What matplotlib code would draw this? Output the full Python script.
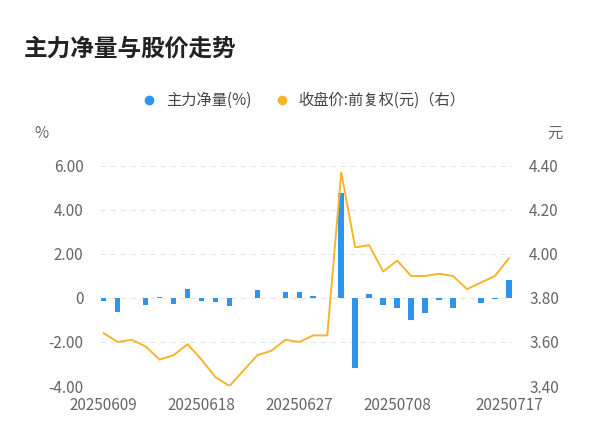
import numpy as np
import matplotlib.pyplot as plt
from matplotlib import font_manager
from matplotlib.lines import Line2D

# ищем шрифт с китайскими иероглифами
cjk = None
for f in font_manager.findSystemFonts():
    if 'CJK' in f or 'cjk' in f:
        try:
            font_manager.fontManager.addfont(f)
        except Exception:
            pass
        if cjk is None:
            cjk = font_manager.FontProperties(fname=f).get_name()
names = [n.name for n in font_manager.fontManager.ttflist if 'CJK' in n.name]
if names:
    cjk = 'Noto Sans CJK SC' if 'Noto Sans CJK SC' in names else names[0]
plt.rcParams['font.family'] = [cjk or 'DejaVu Sans', 'DejaVu Sans']

# данные
flow = [-0.12, -0.62, 0.02, -0.32, 0.06, -0.26, 0.39, -0.14, -0.18, -0.35,
        -0.02, 0.36, -0.02, 0.29, 0.29, 0.10, 0.0, 4.79, -3.18, 0.20,
        -0.33, -0.45, -1.02, -0.70, -0.09, -0.45, -0.02, -0.23, -0.06, 0.83]
price = [3.64, 3.60, 3.61, 3.58, 3.52, 3.54, 3.59, 3.52, 3.44, 3.40,
         3.47, 3.54, 3.56, 3.61, 3.60, 3.63, 3.63, 4.37, 4.03, 4.04,
         3.92, 3.97, 3.90, 3.90, 3.91, 3.90, 3.84, 3.87, 3.90, 3.98]
tick_pos = [0, 7, 14, 21, 29]
tick_labels = ['20250609', '20250618', '20250627', '20250708', '20250717']

x = np.arange(len(flow))
fig = plt.figure(figsize=(6, 4.46), dpi=100)
ax = fig.add_axes([0.167, 0.1345, 0.687, 0.4935])
ax.bar(x, flow, width=0.4, color='#2f95ec', zorder=3)
ax.set_ylim(-4, 6)
ax.set_xlim(-0.25, 29.25)
ax.set_yticks([-4, -2, 0, 2, 4, 6])
ax.set_yticklabels(['-4.00', '-2.00', '0', '2.00', '4.00', '6.00'])
ax.grid(axis='y', color='#e6e6e6', linestyle=(0, (5, 4)), lw=0.8)
ax.set_xticks(tick_pos)
ax.set_xticklabels(tick_labels)
for s in ax.spines.values():
    s.set_visible(False)
ax.tick_params(length=0, labelsize=11, colors='#666666')
ax.tick_params(axis='x', pad=8)
ax.tick_params(axis='y', pad=12)

ax2 = ax.twinx()
ax2.plot(x, price, color='#f7b52c', lw=1.4, zorder=4)
ax2.set_ylim(3.4, 4.4)
ax2.set_yticks([3.4, 3.6, 3.8, 4.0, 4.2, 4.4])
ax2.set_yticklabels(['3.40', '3.60', '3.80', '4.00', '4.20', '4.40'])
for s in ax2.spines.values():
    s.set_visible(False)
ax2.tick_params(length=0, labelsize=11, colors='#666666', pad=12)

fig.text(0.04, 0.875, '主力净量与股价走势', fontsize=17, fontweight='bold', color='#222222')
fig.text(0.058, 0.69, '%', fontsize=11, color='#666666')
fig.text(0.912, 0.69, '元', fontsize=11, color='#666666')
handles = [Line2D([], [], marker='o', ls='', color='#2f95ec', markersize=6),
           Line2D([], [], marker='o', ls='', color='#f7b52c', markersize=6)]
fig.legend(handles, ['主力净量(%)', '收盘价:前复权(元)（右）'], loc='center',
           bbox_to_anchor=(0.5, 0.775), ncol=2, frameon=False, fontsize=11,
           handletextpad=0.1, columnspacing=1.0, labelcolor='#444444')

fig.savefig('out.png', dpi=100)
